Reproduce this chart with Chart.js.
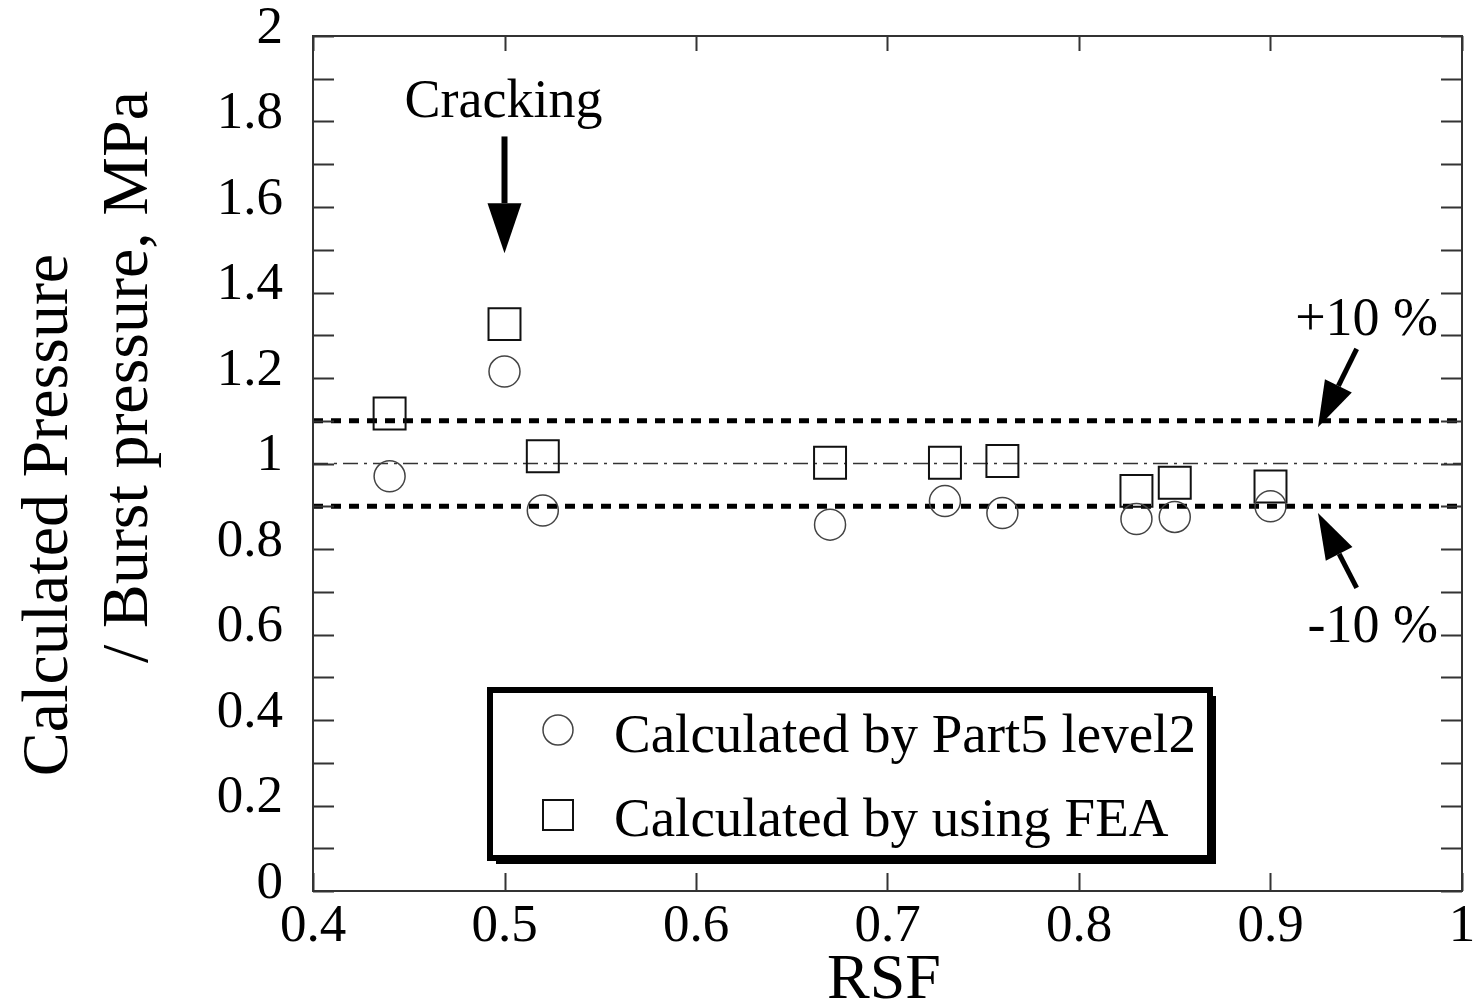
<!DOCTYPE html>
<html>
<head>
<meta charset="utf-8">
<script src="https://cdn.jsdelivr.net/npm/chart.js@4.4.1/dist/chart.umd.min.js"></script>
<style>
  html, body { margin: 0; padding: 0; background: #fff; }
  canvas { display: block; }
</style>
</head>
<body>
<canvas id="rsfChart" width="1474" height="1005"></canvas>
<script>
// data
const rsf = [0.44, 0.50, 0.52, 0.67, 0.73, 0.76, 0.83, 0.85, 0.90];
const part5Level2 = [0.970, 1.215, 0.890, 0.857, 0.912, 0.884, 0.870, 0.875, 0.900];
const feaValues = [1.117, 1.326, 1.017, 1.002, 1.002, 1.006, 0.936, 0.955, 0.946];
const xRange = [0.4, 1.0];
const yRange = [0, 2];
const upperBound = 1.1;
const lowerBound = 0.9;
const unity = 1.0;

const serif = "'Liberation Serif', 'Times New Roman', serif";

function pts(ys) {
    return rsf.map((x, i) => ({ x: x, y: ys[i] }));
}
function hline(v) {
    return [{ x: xRange[0], y: v }, { x: xRange[1], y: v }];
}

function arrow(ctx, x1, y1, x2, y2, headLen, headW, lw) {
    const ang = Math.atan2(y2 - y1, x2 - x1);
    const bx = x2 - headLen * Math.cos(ang);
    const by = y2 - headLen * Math.sin(ang);
    ctx.strokeStyle = '#000';
    ctx.lineWidth = lw;
    ctx.beginPath();
    ctx.moveTo(x1, y1);
    ctx.lineTo(bx, by);
    ctx.stroke();
    ctx.fillStyle = '#000';
    ctx.beginPath();
    ctx.moveTo(x2, y2);
    ctx.lineTo(bx + headW / 2 * Math.sin(ang), by - headW / 2 * Math.cos(ang));
    ctx.lineTo(bx - headW / 2 * Math.sin(ang), by + headW / 2 * Math.cos(ang));
    ctx.closePath();
    ctx.fill();
}

// frame, inward ticks, notes, legend, axis titles
const decorations = {
    id: 'decorations',
    afterDraw(chart) {
        const ctx = chart.ctx;
        const a = chart.chartArea;
        const xs = chart.scales.x;
        const ys = chart.scales.y;
        ctx.save();

        // ticks
        ctx.strokeStyle = '#333';
        ctx.lineWidth = 2;
        ctx.beginPath();
        ys.ticks.forEach(t => {
            const py = Math.round(ys.getPixelForValue(t.value)) + 0.5;
            ctx.moveTo(a.left, py); ctx.lineTo(a.left + 21, py);
            ctx.moveTo(a.right, py); ctx.lineTo(a.right - 21, py);
        });
        xs.ticks.forEach(t => {
            const px = Math.round(xs.getPixelForValue(t.value)) + 0.5;
            ctx.moveTo(px, a.bottom); ctx.lineTo(px, a.bottom - 18);
            ctx.moveTo(px, a.top); ctx.lineTo(px, a.top + 15);
        });
        ctx.stroke();

        // frame
        ctx.strokeStyle = '#333';
        ctx.lineWidth = 2;
        ctx.strokeRect(a.left, a.top, a.right - a.left, a.bottom - a.top);

        // annotations
        ctx.fillStyle = '#000';
        ctx.font = '54px ' + serif;
        ctx.textAlign = 'center';
        ctx.textBaseline = 'alphabetic';
        ctx.fillText('Cracking', xs.getPixelForValue(0.4995), ys.getPixelForValue(1.81));
        arrow(ctx, xs.getPixelForValue(0.5), ys.getPixelForValue(1.765),
            xs.getPixelForValue(0.5), ys.getPixelForValue(1.492), 50, 34, 6);

        ctx.textAlign = 'right';
        ctx.font = '54px ' + serif;
        ctx.fillText('+10 %', xs.getPixelForValue(0.9875), ys.getPixelForValue(1.30));
        ctx.fillText('-10 %', xs.getPixelForValue(0.9875), ys.getPixelForValue(0.583));
        arrow(ctx, xs.getPixelForValue(0.945), ys.getPixelForValue(1.268),
            xs.getPixelForValue(0.9248), ys.getPixelForValue(1.085), 46, 30, 5);
        arrow(ctx, xs.getPixelForValue(0.945), ys.getPixelForValue(0.709),
            xs.getPixelForValue(0.9248), ys.getPixelForValue(0.884), 46, 30, 5);

        // legend box with shadow
        const lx = 490, ly = 690, lw = 720, lh = 168;
        ctx.fillStyle = '#000';
        ctx.fillRect(lx + 6, ly + 6, lw, lh);
        ctx.fillStyle = '#fff';
        ctx.fillRect(lx, ly, lw, lh);
        ctx.strokeStyle = '#000';
        ctx.lineWidth = 6;
        ctx.strokeRect(lx, ly, lw, lh);

        const ds = chart.data.datasets;
        ctx.strokeStyle = '#444';
        ctx.lineWidth = 1.5;
        ctx.beginPath();
        ctx.arc(558, 730, 15, 0, Math.PI * 2);
        ctx.stroke();
        ctx.strokeStyle = '#111';
        ctx.lineWidth = 2;
        ctx.strokeRect(543, 800, 30, 30);

        ctx.fillStyle = '#000';
        ctx.font = '55px ' + serif;
        ctx.textAlign = 'left';
        ctx.fillText(ds[0].label, 614, 752);
        ctx.fillText(ds[1].label, 614, 836);

        // axis titles
        ctx.textAlign = 'center';
        ctx.font = '64px ' + serif;
        ctx.fillText('RSF', 884, 998);

        ctx.font = '66px ' + serif;
        ctx.save();
        ctx.translate(67, 515);
        ctx.rotate(-Math.PI / 2);
        ctx.fillText('Calculated Pressure', 0, 0);
        ctx.restore();
        ctx.save();
        ctx.translate(147, 377);
        ctx.rotate(-Math.PI / 2);
        ctx.fillText('/ Burst pressure, MPa', 0, 0);
        ctx.restore();

        ctx.restore();
    }
};

const config = {
    type: 'scatter',
    data: {
        datasets: [
            {
                label: 'Calculated by Part5 level2',
                data: pts(part5Level2),
                pointStyle: 'circle',
                pointRadius: 15.5,
                pointBorderColor: '#444',
                pointBorderWidth: 1.5,
                pointBackgroundColor: 'rgba(0,0,0,0)'
            },
            {
                label: 'Calculated by using FEA',
                data: pts(feaValues),
                pointStyle: 'rect',
                pointRadius: 22.6,
                pointBorderColor: '#111',
                pointBorderWidth: 2,
                pointBackgroundColor: 'rgba(0,0,0,0)'
            },
            {
                label: '+10 %',
                type: 'line',
                data: hline(upperBound),
                borderColor: '#000',
                borderWidth: 5,
                borderDash: [10, 8],
                pointRadius: 0,
                fill: false
            },
            {
                label: '-10 %',
                type: 'line',
                data: hline(lowerBound),
                borderColor: '#000',
                borderWidth: 5,
                borderDash: [10, 8],
                pointRadius: 0,
                fill: false
            },
            {
                label: 'ratio 1',
                type: 'line',
                data: hline(unity),
                borderColor: '#333',
                borderWidth: 1.3,
                borderDash: [15, 6, 3, 6],
                pointRadius: 0,
                fill: false
            }
        ]
    },
    options: {
        responsive: false,
        animation: false,
        devicePixelRatio: 1,
        layout: {
            autoPadding: false,
            padding: { top: 36, right: 12, left: 0, bottom: 0 }
        },
        plugins: {
            legend: { display: false },
            title: { display: false },
            tooltip: { enabled: false }
        },
        scales: {
            x: {
                type: 'linear',
                min: xRange[0],
                max: xRange[1],
                afterFit: s => {
                    s.height = 114;
                    s.paddingLeft = 0;
                    s.paddingRight = 0;
                },
                grid: { display: false, drawTicks: false },
                border: { display: false },
                ticks: {
                    stepSize: 0.1,
                    autoSkip: false,
                    maxRotation: 0,
                    padding: 4,
                    color: '#000',
                    font: { size: 53, family: serif },
                    callback: v => String(Math.round(v * 10) / 10)
                }
            },
            y: {
                type: 'linear',
                min: yRange[0],
                max: yRange[1],
                afterFit: s => {
                    s.width = 313;
                    s.paddingTop = 0;
                    s.paddingBottom = 0;
                },
                grid: { display: false, drawTicks: false },
                border: { display: false },
                ticks: {
                    stepSize: 0.1,
                    autoSkip: false,
                    padding: 30,
                    labelOffset: -7,
                    color: '#000',
                    font: { size: 53, family: serif },
                    callback: v => {
                        const k = Math.round(v * 10);
                        return k % 2 === 0 ? String(k / 10) : '';
                    }
                }
            }
        }
    },
    plugins: [decorations]
};

const rsfChart = new Chart(document.getElementById('rsfChart'), config);
</script>
</body>
</html>
